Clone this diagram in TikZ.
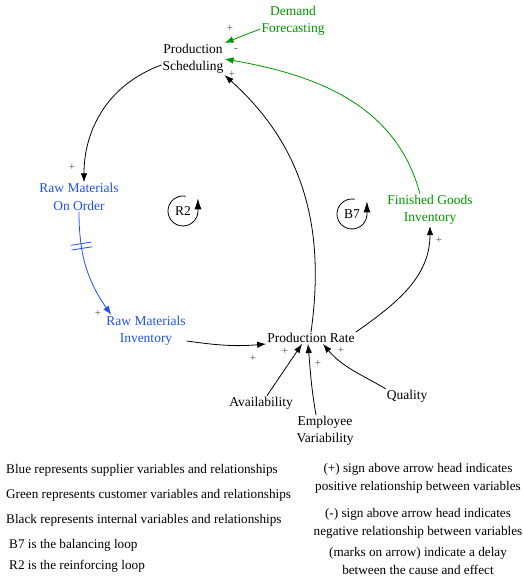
\documentclass[tikz,border=0pt]{standalone}
\usepackage{fontspec}
\setmainfont{Liberation Serif}
\usetikzlibrary{arrows.meta}
\definecolor{supplier}{RGB}{30,80,255}
\definecolor{customer}{RGB}{0,150,0}
\tikzset{
  var/.style={
    align=center,
    font=\fontsize{13.5}{17.5}\selectfont,
    inner sep=1pt,
  },
  link/.style={
    -{Latex[length=9pt,width=6.5pt]},
    line width=0.8pt,
  },
  loop/.style={
    -{Latex[length=11pt,width=7pt]},
    line width=0.8pt,
  },
  sign/.style={
    font=\fontsize{11}{11}\selectfont,
    text=black!70,
    inner sep=0pt,
  },
  legend/.style={
    font=\fontsize{13.2}{18}\selectfont,
    inner sep=0pt,
  }
}

\begin{document}
\begin{tikzpicture}[x=1pt, y=1pt]
        \useasboundingbox (0,0) rectangle (522,580);

        \node [var] (ps) at (193,521) {Production\\Scheduling};
        \node [var, text=customer] (df) at (293,559) {Demand\\Forecasting};
        \node [var, text=supplier] (rmoo) at (79,383) {Raw Materials\\On Order};
        \node [var, text=supplier] (rmi) at (146,249) {Raw Materials\\Inventory};
        \node [var] (pr) at (311,242) {Production Rate};
        \node [var, text=customer] (fgi) at (430,370) {Finished Goods\\Inventory};
        \node [var] (av) at (261,177) {Availability};
        \node [var] (ev) at (325,149) {Employee\\Variability};
        \node [var] (qu) at (407,184) {Quality};

        \node [var] (r2) at (183,369) {R2};
        \node [var] (b7) at (352,366) {B7};
        \draw [loop] ([shift={(80:15)}]r2.center) arc [start angle=80, end angle=355, radius=15] -- ++(0,14);
        \draw [loop] ([shift={(80:15)}]b7.center) arc [start angle=80, end angle=355, radius=15] -- ++(0,14);

        \draw [link] ([yshift=-6pt]ps.west) to [out=200, in=90] ([xshift=5pt]rmoo.north);
        \draw [link, supplier] (rmoo.south) to [out=-90, in=125]
          node [pos=.3, sloped, minimum width=4pt, minimum height=20pt, inner sep=0pt] (delay) {}
          ([xshift=6pt]rmi.north west);
        \draw [supplier, line width=0.8pt] (delay.north west) -- (delay.south west)
          (delay.north east) -- (delay.south east);
        \draw [link] ([yshift=-10pt]rmi.east) to [out=-8, in=185] ([yshift=-6pt]pr.west);
        \draw [link] (pr.north) to [out=82, in=-42] (ps.south east);
        \draw [link] (pr.north east) to [out=35, in=-90] (fgi.south);
        \draw [link, customer] ([xshift=-10pt]fgi.north) to [out=105, in=-10] (ps.east);
        \draw [link, customer] ([yshift=-8pt]df.west) -- (ps.north east);
        \draw [link] ([xshift=6pt]av.north) -- ([xshift=-9pt]pr.south);
        \draw [link] ([xshift=-9pt]ev.north) to [out=100, in=-85] ([xshift=-3pt]pr.south);
        \draw [link] (qu.north west) to [out=150, in=-50] ([xshift=12pt]pr.south);

        \node [sign] at (72,413) {+};
        \node [sign] at (98,267) {+};
        \node [sign] at (253,222) {+};
        \node [sign] at (232,506) {+};
        \node [sign] at (439,340) {+};
        \node [sign] at (236,530) {-};
        \node [sign] at (230,552) {+};
        \node [sign] at (285,229) {+};
        \node [sign] at (318,217) {+};
        \node [sign] at (341,230) {+};

        \node [legend, anchor=west] (blue) at (6,110) {Blue represents supplier variables and relationships};
        \node [legend, anchor=west] (green) at (6,85) {Green represents customer variables and relationships};
        \node [legend, anchor=west] (black) at (6,60) {Black represents internal variables and relationships};
        \node [legend, anchor=west] (bal) at (9,35) {B7 is the balancing loop};
        \node [legend, anchor=west] (rein) at (9,14) {R2 is the reinforcing loop};
        \node [legend, align=center] (pos) at (418,102) {(+) sign above arrow head indicates\\positive relationship between variables};
        \node [legend, align=center] (neg) at (418,57) {(-) sign above arrow head indicates\\negative relationship between variables};
        \node [legend, align=center] (dly) at (418,19.5) {(marks on arrow) indicate a delay\\between the cause and effect};
    \end{tikzpicture}
\end{document}
